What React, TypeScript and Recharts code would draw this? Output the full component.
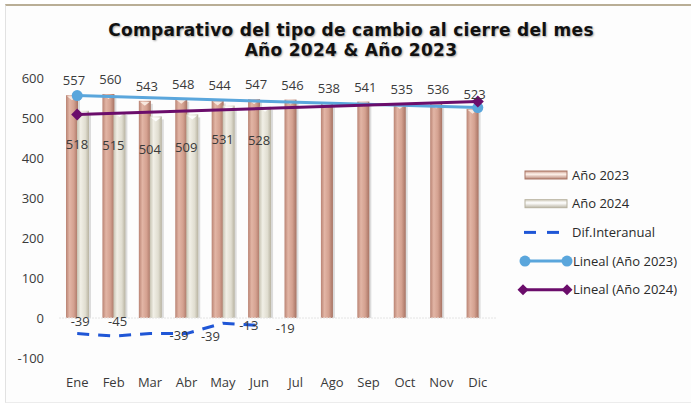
import React from 'react';
import { ComposedChart, Bar, Line, XAxis, YAxis, LabelList, ReferenceLine } from 'recharts';

const months = ['Ene', 'Feb', 'Mar', 'Abr', 'May', 'Jun', 'Jul', 'Ago', 'Sep', 'Oct', 'Nov', 'Dic'];
const year2023 = [557, 560, 543, 548, 544, 547, 546, 538, 541, 535, 536, 523];
const year2024 = [518, 515, 504, 509, 531, 528, null, null, null, null, null, null];
const difInteranual = [-39, -45, -39, -39, -13, -19, null, null, null, null, null, null];
const trend2023 = [556, null, null, null, null, null, null, null, null, null, null, 526];
const trend2024 = [509, null, null, null, null, null, null, null, null, null, null, 541];
const yTicks = [-100, 0, 100, 200, 300, 400, 500, 600];

const data = months.map((m, i) => ({
  month: m,
  a2023: year2023[i],
  a2024: year2024[i],
  dif: difInteranual[i],
  t2023: trend2023[i],
  t2024: trend2024[i],
}));

// label placement offsets relative to each point (style only)
const difLabelOffsets = [[3, -13], [4, -15], [29, 1], [24, 2], [26, 2], [26, 2]];

const FONT = '"Open Sans", "Noto Sans", sans-serif';
const TXT = '#3a3a3a';

const makeBar = (grad: string, top: string) => (props: any) => {
  const { x, y, width, height } = props;
  if (height == null || !(height > 0) || y == null) return <g />;
  return (
    <g>
      <rect x={x + 2} y={y + 3} width={width} height={height - 3} fill="rgba(0,0,0,0.13)" />
      <rect x={x} y={y} width={width} height={height} fill={`url(#${grad})`} />
      <polygon
        points={`${x + 1},${y + 1} ${x + width - 1},${y + 1} ${x + width / 2},${y + 5}`}
        fill={top}
        opacity={0.9}
      />
    </g>
  );
};

const Bar2023 = makeBar('g2023', '#fbeee6');
const Bar2024 = makeBar('g2024', '#ffffff');

const circleDot = (props: any) => {
  const { cx, cy, value, index } = props;
  if (value == null || cy == null) return <g key={`c${index}`} />;
  return <circle key={`c${index}`} cx={cx} cy={cy} r={5.5} fill="#5aa6dc" />;
};

const diamondDot = (props: any) => {
  const { cx, cy, value, index } = props;
  if (value == null || cy == null) return <g key={`d${index}`} />;
  const s = 6;
  return (
    <polygon
      key={`d${index}`}
      points={`${cx},${cy - s} ${cx + s},${cy} ${cx},${cy + s} ${cx - s},${cy}`}
      fill="#6b0d6b"
    />
  );
};

const label2023 = (props: any) => {
  const { x, y, width, value } = props;
  if (value == null) return null;
  return (
    <text x={x + width / 2 + 2} y={y - 10} textAnchor="middle" fontSize={13} fontFamily={FONT} fill={TXT}>
      {value}
    </text>
  );
};

const label2024 = (props: any) => {
  const { x, y, width, value } = props;
  if (value == null) return null;
  return (
    <text x={x + width / 2 - 6} y={y + 38} textAnchor="middle" fontSize={13} fontFamily={FONT} fill={TXT}>
      {value}
    </text>
  );
};

const labelDif = (props: any) => {
  const { x, y, value, index } = props;
  if (value == null) return null;
  const off = difLabelOffsets[index] || [0, 0];
  return (
    <text x={x + off[0]} y={y + off[1] + 5} textAnchor="middle" fontSize={13} fontFamily={FONT} fill={TXT}>
      {value}
    </text>
  );
};

const legendItems = [
  { key: 'a2023', label: 'Año 2023', kind: 'bar', grad: 'lg2023', edge: '#a97767' },
  { key: 'a2024', label: 'Año 2024', kind: 'bar', grad: 'lg2024', edge: '#b7b2a0' },
  { key: 'dif', label: 'Dif.Interanual', kind: 'dash', color: '#1f56d6' },
  { key: 't2023', label: 'Lineal (Año 2023)', kind: 'circle', color: '#5aa6dc' },
  { key: 't2024', label: 'Lineal (Año 2024)', kind: 'diamond', color: '#6b0d6b' },
];

const LegendBox = () => (
  <svg width={172} height={150} style={{ display: 'block' }}>
    <defs>
      <linearGradient id="lg2023" x1="0" y1="0" x2="0" y2="1">
        <stop offset="0" stopColor="#c99a8a" />
        <stop offset="0.4" stopColor="#fff3ec" />
        <stop offset="1" stopColor="#b88676" />
      </linearGradient>
      <linearGradient id="lg2024" x1="0" y1="0" x2="0" y2="1">
        <stop offset="0" stopColor="#d6d2c3" />
        <stop offset="0.4" stopColor="#ffffff" />
        <stop offset="1" stopColor="#bcb7a6" />
      </linearGradient>
    </defs>
    {legendItems.map((it, i) => {
      const cy = 12 + i * 28.7;
      let sym: any = null;
      if (it.kind === 'bar') {
        sym = <rect x={8} y={cy - 4} width={42} height={8} fill={`url(#${it.grad})`} stroke={it.edge} strokeWidth={1} />;
      } else if (it.kind === 'dash') {
        sym = (
          <g stroke={it.color} strokeWidth={3}>
            <line x1={7} y1={cy} x2={19} y2={cy} />
            <line x1={30} y1={cy} x2={42} y2={cy} />
          </g>
        );
      } else if (it.kind === 'circle') {
        sym = (
          <g>
            <line x1={6} y1={cy} x2={50} y2={cy} stroke={it.color} strokeWidth={3} />
            <circle cx={8} cy={cy} r={5.5} fill={it.color} />
            <circle cx={50} cy={cy} r={5.5} fill={it.color} />
          </g>
        );
      } else {
        sym = (
          <g>
            <line x1={6} y1={cy} x2={50} y2={cy} stroke={it.color} strokeWidth={3} />
            <polygon points={`${6},${cy - 5.5} ${11.5},${cy} ${6},${cy + 5.5} ${0.5},${cy}`} fill={it.color} />
            <polygon points={`${50},${cy - 5.5} ${55.5},${cy} ${50},${cy + 5.5} ${44.5},${cy}`} fill={it.color} />
          </g>
        );
      }
      const tx = it.kind === 'dash' ? 55 : it.kind === 'bar' ? 55 : 56;
      return (
        <g key={it.key}>
          {sym}
          <text x={tx} y={cy + 4.5} fontSize={13} fontFamily={FONT} fill="#2a2a2a">
            {it.label}
          </text>
        </g>
      );
    })}
  </svg>
);

export default function App() {
  return (
    <div style={{ position: 'absolute', left: 0, top: 0, width: 691, height: 403, background: '#ffffff', overflow: 'hidden' }}>
      <div
        style={{
          position: 'absolute',
          left: 5,
          top: 4,
          width: 686,
          height: 396,
          borderTop: '2px solid #b9ae96',
          borderLeft: '1px solid #e2e2e2',
          borderBottom: '1px solid #ececec',
          background: '#fdfdfd',
        }}
      />
      <div
        style={{
          position: 'absolute',
          left: 0,
          top: 20,
          width: 702,
          textAlign: 'center',
          fontFamily: '"DejaVu Sans", sans-serif',
          fontWeight: 'bold',
          fontSize: 17,
          lineHeight: '20px',
          color: '#111',
          textShadow: '1px 1px 2px rgba(0,0,0,0.35)',
          letterSpacing: 0.3,
        }}
      >
        <div>Comparativo del tipo de cambio al cierre del mes</div>
        <div>Año 2024 &amp; Año 2023</div>
      </div>
      <div style={{ position: 'absolute', left: 0, top: 0 }}>
        <ComposedChart
          width={691}
          height={403}
          data={data}
          margin={{ top: 78, right: 195, bottom: 15, left: 14 }}
          barSize={12}
          barGap={-1}
        >
          <defs>
            <linearGradient id="g2023" x1="0" y1="0" x2="1" y2="0">
              <stop offset="0" stopColor="#b98373" />
              <stop offset="0.3" stopColor="#e2b5a5" />
              <stop offset="0.65" stopColor="#d4a190" />
              <stop offset="1" stopColor="#a77363" />
            </linearGradient>
            <linearGradient id="g2024" x1="0" y1="0" x2="1" y2="0">
              <stop offset="0" stopColor="#c6c2b1" />
              <stop offset="0.3" stopColor="#f1efe6" />
              <stop offset="0.7" stopColor="#e0ddd0" />
              <stop offset="1" stopColor="#b8b3a1" />
            </linearGradient>
          </defs>
          <XAxis
            dataKey="month"
            axisLine={false}
            tickLine={false}
            tickMargin={14}
            height={30}
            tick={{ fontSize: 13, fontFamily: FONT, fill: TXT }}
            interval={0}
          />
          <YAxis
            type="number"
            domain={[-100, 600]}
            ticks={yTicks}
            axisLine={false}
            tickLine={false}
            width={45}
            tickMargin={9}
            tick={{ fontSize: 13, fontFamily: FONT, fill: TXT }}
          />
          <ReferenceLine y={0} stroke="#e4e4e4" strokeWidth={1} strokeDasharray="2 1" />
          <Bar dataKey="a2023" name="Año 2023" shape={Bar2023} isAnimationActive={false}>
            <LabelList dataKey="a2023" content={label2023} />
          </Bar>
          <Bar dataKey="a2024" name="Año 2024" shape={Bar2024} isAnimationActive={false}>
            <LabelList dataKey="a2024" content={label2024} />
          </Bar>
          <Line
            dataKey="dif"
            name="Dif.Interanual"
            stroke="#1f56d6"
            strokeWidth={3}
            strokeDasharray="12 9"
            dot={false}
            isAnimationActive={false}
          >
            <LabelList dataKey="dif" content={labelDif} />
          </Line>
          <Line
            dataKey="t2023"
            name="Lineal (Año 2023)"
            stroke="#5aa6dc"
            strokeWidth={3}
            connectNulls
            dot={circleDot}
            activeDot={false}
            isAnimationActive={false}
          />
          <Line
            dataKey="t2024"
            name="Lineal (Año 2024)"
            stroke="#6b0d6b"
            strokeWidth={3}
            connectNulls
            dot={diamondDot}
            activeDot={false}
            isAnimationActive={false}
          />
        </ComposedChart>
      </div>
      <div style={{ position: 'absolute', left: 517, top: 163 }}>
        <LegendBox />
      </div>
    </div>
  );
}
